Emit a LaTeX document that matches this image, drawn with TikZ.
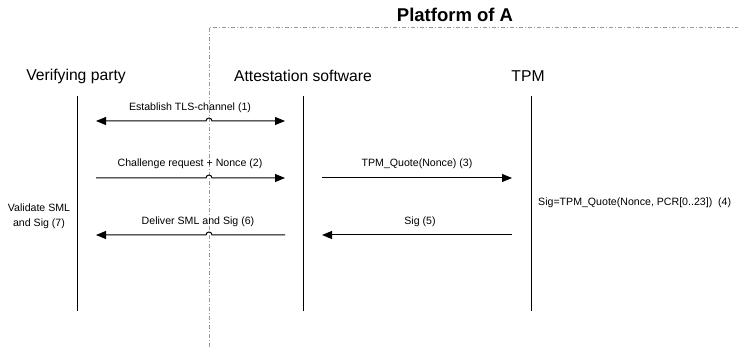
\documentclass[tikz,border=0pt]{standalone}
\usepackage{fontspec}
\setmainfont{Liberation Sans}
\usetikzlibrary{arrows.meta}
\begin{document}
\begin{tikzpicture}[x=1pt,y=-1pt,
  life/.style={line width=1pt},
  msg/.style={line width=1pt, -{Triangle[length=10pt,width=8pt]}},
  msgboth/.style={line width=1pt, {Triangle[length=10pt,width=8pt]}-{Triangle[length=10pt,width=8pt]}},
  lbl/.style={font=\fontsize{10.6}{15}\selectfont, inner sep=0pt},
  actor/.style={font=\fontsize{15.7}{18}\selectfont, inner sep=0pt},
  title/.style={font=\fontsize{18.5}{20}\selectfont\bfseries, inner sep=0pt},
  bound/.style={draw=gray!80, line width=0.7pt, dash pattern=on 4pt off 2pt on 1pt off 2pt}
]
\useasboundingbox (0,0) rectangle (738,347);

% platform boundary
\coordinate (bcorner) at (209,27);
\coordinate (bbot) at (209,347);
\coordinate (bright) at (738,27);
\draw[bound] (bbot) -- (bcorner) -- (bright);
\node[title] (plat) at (455,15) {Platform of A};

% actors
\node[actor] (vp) at (76,76) {Verifying party};
\node[actor] (as) at (303,76) {Attestation software};
\node[actor] (tpm) at (528,76) {TPM};

% lifelines
\coordinate (vp-top) at (77,96);  \coordinate (vp-bot) at (77,311);
\coordinate (as-top) at (303,96); \coordinate (as-bot) at (303,311);
\coordinate (tp-top) at (531,96); \coordinate (tp-bot) at (531,311);
\draw[life] (vp-top) -- (vp-bot);
\draw[life] (as-top) -- (as-bot);
\draw[life] (tp-top) -- (tp-bot);

% message 1
\coordinate (m1a) at (96,121); \coordinate (m1b) at (285,121);
\draw[msgboth] (m1a) -- (206,121) arc[start angle=180,end angle=360,radius=3] -- (m1b);
\node[lbl] (l1) at (190,108) {Establish TLS-channel (1)};

% message 2
\coordinate (m2a) at (96,178); \coordinate (m2b) at (285,178);
\draw[msg] (m2a) -- (206,178) arc[start angle=180,end angle=360,radius=3] -- (m2b);
\node[lbl] (l2) at (190,164) {Challenge request + Nonce (2)};

% message 3
\coordinate (m3a) at (322,178); \coordinate (m3b) at (512,178);
\draw[msg] (m3a) -- (m3b);
\node[lbl] (l3) at (417,164) {TPM\_Quote(Nonce) (3)};

% step 4
\node[lbl, anchor=west] (l4) at (538,203) {Sig=TPM\_Quote(Nonce, PCR[0..23])\ \ (4)};

% message 5
\coordinate (m5a) at (512,235); \coordinate (m5b) at (322,235);
\draw[msg] (m5a) -- (m5b);
\node[lbl] (l5) at (420,222) {Sig (5)};

% message 6
\coordinate (m6a) at (285,235); \coordinate (m6b) at (96,235);
\draw[msg] (m6a) -- (212,235) arc[start angle=0,end angle=-180,radius=3] -- (m6b);
\node[lbl] (l6) at (198,222) {Deliver SML and Sig (6)};

% step 7
\node[lbl, align=center] (l7) at (39,216) {Validate SML\\and Sig (7)};
\end{tikzpicture}
\end{document}
